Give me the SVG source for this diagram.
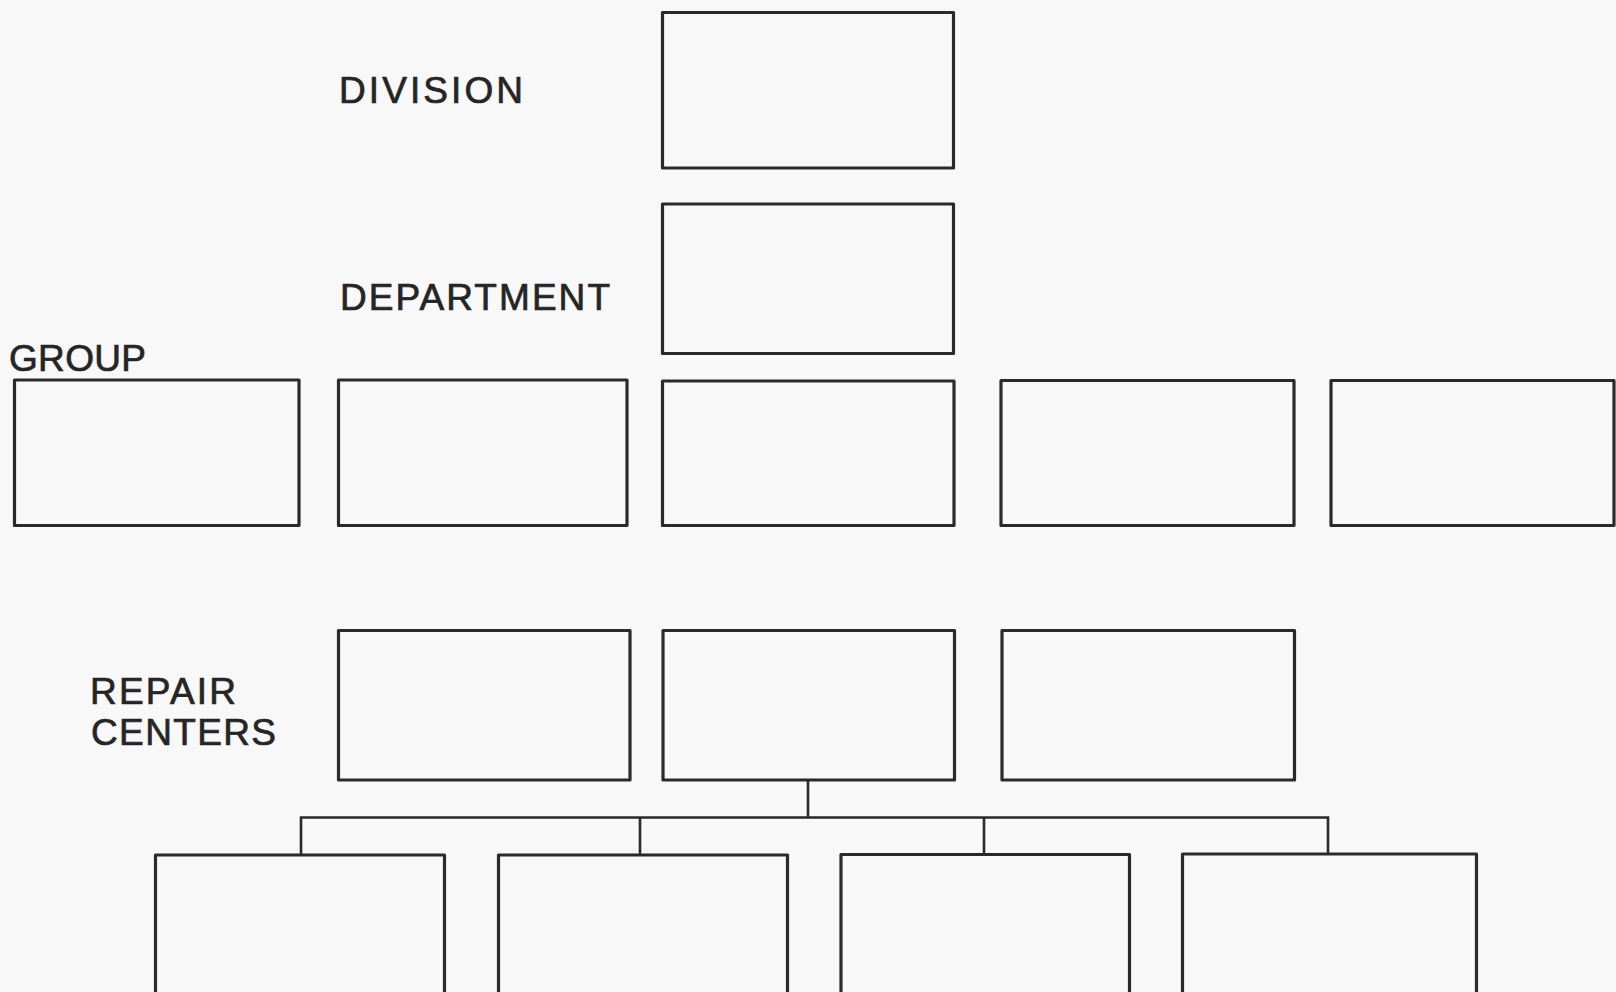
<svg xmlns="http://www.w3.org/2000/svg" width="1616" height="992" viewBox="0 0 1616 992">
<style>
.box{fill:none;stroke:#2b2a2b;stroke-width:3.2;stroke-linejoin:round}
.ln{fill:none;stroke:#2b2a2b;stroke-width:2.6}
.lbl{font-family:"Liberation Sans",Arial,sans-serif;font-size:37px;fill:#262526;stroke:#262526;stroke-width:0.7}
</style>
<rect x="0" y="0" width="1616" height="992" fill="#f9f8f8"/>
<g id="labels">
<text class="lbl" x="339" y="103" textLength="184" lengthAdjust="spacing">DIVISION</text>
<text class="lbl" x="340" y="310" textLength="270" lengthAdjust="spacing">DEPARTMENT</text>
<text class="lbl" x="9" y="371" textLength="137" lengthAdjust="spacing">GROUP</text>
<text class="lbl" x="90" y="704" textLength="146" lengthAdjust="spacing">REPAIR</text>
<text class="lbl" x="91" y="745" textLength="185" lengthAdjust="spacing">CENTERS</text>
</g>
<g id="division"><rect class="box" x="662.5" y="12.5" width="291" height="155.5"/></g>
<g id="department"><rect class="box" x="662.5" y="204" width="291" height="149.5"/></g>
<g id="group1"><rect class="box" x="14.5" y="380" width="284.5" height="145.5"/></g>
<g id="group2"><rect class="box" x="338.5" y="380" width="288.5" height="145.5"/></g>
<g id="group3"><rect class="box" x="662.5" y="381" width="291.5" height="144.5"/></g>
<g id="group4"><rect class="box" x="1001" y="380.5" width="293" height="145"/></g>
<g id="group5"><rect class="box" x="1331" y="380.5" width="283" height="145"/></g>
<g id="repair1"><rect class="box" x="338.5" y="630.5" width="291.5" height="149.5"/></g>
<g id="repair2"><rect class="box" x="663" y="630.5" width="291.5" height="149.5"/></g>
<g id="repair3"><rect class="box" x="1002" y="630.5" width="292.5" height="149.5"/></g>
<g id="sub1"><rect class="box" x="155.5" y="855" width="289" height="160"/></g>
<g id="sub2"><rect class="box" x="498.5" y="855" width="289" height="160"/></g>
<g id="sub3"><rect class="box" x="841" y="854.5" width="288.5" height="160"/></g>
<g id="sub4"><rect class="box" x="1182.5" y="854" width="294" height="160"/></g>
<g id="connectors">
<path class="ln" d="M808 780 V817.5"/>
<path class="ln" d="M301 855 V817.5 H1328 V854"/>
<path class="ln" d="M640 817.5 V855"/>
<path class="ln" d="M984 817.5 V854.5"/>
</g>
</svg>
